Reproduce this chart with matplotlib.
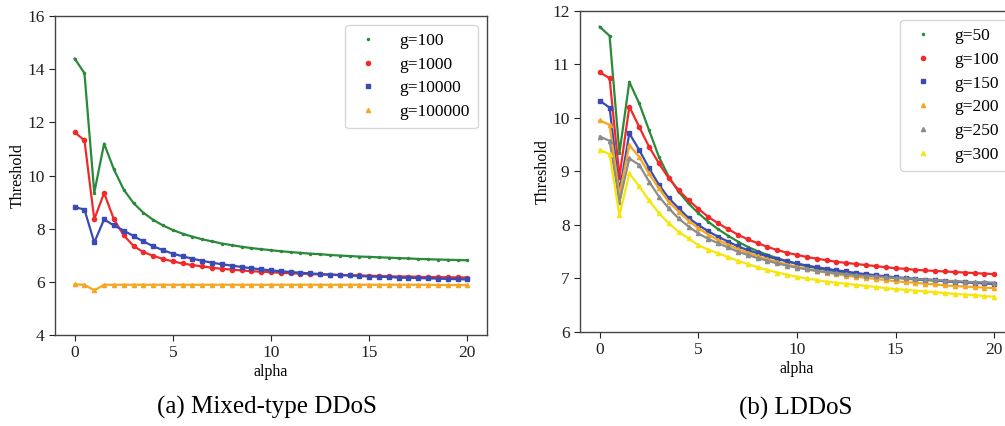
import matplotlib
matplotlib.use("Agg")
import matplotlib.pyplot as plt

plt.rcParams['font.family'] = ['Liberation Serif', 'DejaVu Serif']
plt.rcParams['mathtext.fontset'] = 'stix'

# ---------------- data ----------------
alpha = [0, 0.5, 1, 1.5, 2, 2.5, 3, 3.5, 4, 4.5, 5, 5.5, 6, 6.5, 7, 7.5, 8, 8.5, 9, 9.5,
         10, 10.5, 11, 11.5, 12, 12.5, 13, 13.5, 14, 14.5, 15, 15.5, 16, 16.5, 17, 17.5,
         18, 18.5, 19, 19.5, 20]

# (a) Mixed-type DDoS
mix_labels = ["g=100", "g=1000", "g=10000", "g=100000"]
mix_g100 = [14.40, 13.85, 9.35, 11.20, 10.23, 9.47, 8.96, 8.60, 8.33, 8.12, 7.95, 7.81, 7.70,
            7.60, 7.52, 7.44, 7.38, 7.32, 7.27, 7.23, 7.19, 7.15, 7.12, 7.09, 7.06, 7.04,
            7.01, 6.99, 6.97, 6.95, 6.94, 6.92, 6.91, 6.89, 6.88, 6.86, 6.85, 6.84, 6.83,
            6.82, 6.81]
mix_g1000 = [11.63, 11.32, 8.35, 9.34, 8.35, 7.75, 7.35, 7.12, 6.98, 6.86, 6.77, 6.69, 6.63,
             6.58, 6.53, 6.49, 6.46, 6.43, 6.40, 6.38, 6.36, 6.34, 6.32, 6.31, 6.29, 6.28,
             6.27, 6.26, 6.25, 6.24, 6.23, 6.22, 6.21, 6.20, 6.20, 6.19, 6.18, 6.18, 6.17,
             6.17, 6.16]
mix_g10000 = [8.81, 8.72, 7.48, 8.35, 8.12, 7.93, 7.72, 7.52, 7.34, 7.19, 7.06, 6.96, 6.87,
              6.79, 6.72, 6.66, 6.61, 6.56, 6.51, 6.47, 6.43, 6.40, 6.37, 6.34, 6.32, 6.29,
              6.27, 6.25, 6.24, 6.22, 6.20, 6.19, 6.18, 6.16, 6.15, 6.14, 6.13, 6.12, 6.11,
              6.10, 6.09]
mix_g100000 = [5.90, 5.89, 5.68, 5.89, 5.89, 5.89, 5.89, 5.89, 5.89, 5.89, 5.89, 5.89, 5.89,
               5.89, 5.89, 5.89, 5.89, 5.89, 5.89, 5.89, 5.89, 5.89, 5.89, 5.89, 5.89, 5.89,
               5.89, 5.89, 5.89, 5.89, 5.89, 5.89, 5.89, 5.89, 5.89, 5.89, 5.89, 5.88, 5.88,
               5.88, 5.88]

# (b) LDDoS
ld_labels = ["g=50", "g=100", "g=150", "g=200", "g=250", "g=300"]
ld_g50 = [11.70, 11.53, 9.34, 10.67, 10.27, 9.77, 9.27, 8.90, 8.62, 8.40, 8.22, 8.06, 7.92,
          7.80, 7.69, 7.59, 7.51, 7.44, 7.38, 7.32, 7.27, 7.23, 7.19, 7.16, 7.13, 7.11,
          7.09, 7.07, 7.05, 7.03, 7.01, 7.00, 6.98, 6.97, 6.96, 6.95, 6.94, 6.93, 6.92,
          6.91, 6.90]
ld_g100 = [10.85, 10.74, 8.90, 10.21, 9.83, 9.46, 9.15, 8.87, 8.65, 8.46, 8.30, 8.15, 8.03,
           7.92, 7.82, 7.73, 7.66, 7.59, 7.53, 7.48, 7.44, 7.40, 7.37, 7.34, 7.31, 7.29,
           7.27, 7.25, 7.23, 7.21, 7.19, 7.18, 7.16, 7.15, 7.14, 7.13, 7.12, 7.11, 7.10,
           7.09, 7.08]
ld_g150 = [10.32, 10.19, 8.62, 9.71, 9.40, 9.06, 8.75, 8.50, 8.31, 8.13, 8.00, 7.88, 7.78,
           7.69, 7.60, 7.53, 7.47, 7.41, 7.36, 7.32, 7.28, 7.24, 7.21, 7.18, 7.15, 7.13,
           7.10, 7.08, 7.06, 7.04, 7.02, 7.01, 6.99, 6.98, 6.97, 6.95, 6.94, 6.93, 6.92,
           6.91, 6.90]
ld_g200 = [9.95, 9.87, 8.56, 9.49, 9.27, 8.96, 8.68, 8.43, 8.25, 8.08, 7.94, 7.82, 7.72,
           7.63, 7.55, 7.48, 7.42, 7.36, 7.31, 7.26, 7.22, 7.18, 7.14, 7.11, 7.08, 7.05,
           7.03, 7.01, 6.99, 6.97, 6.95, 6.93, 6.92, 6.90, 6.89, 6.87, 6.86, 6.85, 6.84,
           6.83, 6.82]
ld_g250 = [9.65, 9.57, 8.43, 9.24, 9.12, 8.81, 8.53, 8.31, 8.12, 7.97, 7.84, 7.74, 7.66,
           7.58, 7.50, 7.44, 7.38, 7.33, 7.28, 7.24, 7.20, 7.17, 7.14, 7.12, 7.10, 7.08,
           7.06, 7.05, 7.04, 7.02, 7.01, 7.00, 6.99, 6.98, 6.97, 6.96, 6.95, 6.94, 6.93,
           6.93, 6.92]
ld_g300 = [9.40, 9.32, 8.18, 8.96, 8.72, 8.46, 8.22, 8.03, 7.87, 7.75, 7.62, 7.54, 7.47,
           7.40, 7.33, 7.27, 7.21, 7.16, 7.11, 7.07, 7.03, 7.00, 6.97, 6.94, 6.92, 6.90,
           6.88, 6.86, 6.84, 6.82, 6.80, 6.79, 6.77, 6.76, 6.74, 6.73, 6.71, 6.70, 6.69,
           6.67, 6.66]

# ---------------- styles ----------------
mix_series = [mix_g100, mix_g1000, mix_g10000, mix_g100000]
mix_colors = ["#2a8a3a", "#f02a2a", "#3a4cb4", "#f5a623"]
mix_markers = [".", "o", "s", "^"]
mix_msize = [3, 3, 3, 3]

ld_series = [ld_g50, ld_g100, ld_g150, ld_g200, ld_g250, ld_g300]
ld_colors = ["#2a8a3a", "#f02a2a", "#3a4cb4", "#f5a623", "#8c8c8c", "#f5e60f"]
ld_markers = [".", "o", "s", "^", "^", "^"]
ld_msize = [3, 3, 3, 3, 3, 3]

W, H = 1005, 426
fig = plt.figure(figsize=(W / 100, H / 100), dpi=100)


def ax_px(l, t, r, b):
    return fig.add_axes([l / W, 1 - b / H, (r - l) / W, (b - t) / H])


def style(ax):
    for s in ax.spines.values():
        s.set_color("#444444")
        s.set_linewidth(1.0)
    ax.tick_params(labelsize=12.5, colors="#222222", length=4)


leg_kw = dict(fontsize=12.5, handletextpad=0.9, handlelength=1.8, borderpad=0.45,
              labelspacing=0.44, borderaxespad=0.0, loc="upper right")

# left panel
ax1 = ax_px(55, 16, 487, 335)
for y, c, m, ms, lab in zip(mix_series, mix_colors, mix_markers, mix_msize, mix_labels):
    ax1.plot(alpha, y, color=c, lw=1.6)
    ax1.plot(alpha, y, ls="none", marker=m, ms=ms, color=c, label=lab)
ax1.set_xlim(-1, 21)
ax1.set_ylim(4, 16)
ax1.set_yticks([4, 6, 8, 10, 12, 14, 16])
ax1.set_xticks([0, 5, 10, 15, 20])
ax1.set_xlabel("alpha", fontsize=11.5, labelpad=2)
ax1.set_ylabel("Threshold", fontsize=11.5, labelpad=1)
style(ax1)
ax1.legend(bbox_to_anchor=(0.979, 0.972), **leg_kw)

# right panel
ax2 = ax_px(580, 10.7, 1014, 332)
for y, c, m, ms, lab in zip(ld_series, ld_colors, ld_markers, ld_msize, ld_labels):
    ax2.plot(alpha, y, color=c, lw=1.6)
    ax2.plot(alpha, y, ls="none", marker=m, ms=ms, color=c, label=lab)
ax2.set_xlim(-1, 21)
ax2.set_ylim(6, 12)
ax2.set_yticks([6, 7, 8, 9, 10, 11, 12])
ax2.set_xticks([0, 5, 10, 15, 20])
ax2.set_xlabel("alpha", fontsize=11.5, labelpad=2)
ax2.set_ylabel("Threshold", fontsize=11.5, labelpad=1)
style(ax2)
ax2.legend(bbox_to_anchor=(0.984, 0.971), **leg_kw)

fig.text(267 / W, 1 - 407 / H, "(a) Mixed-type DDoS", fontsize=18, ha="center", va="center")
fig.text(796 / W, 1 - 408 / H, "(b) LDDoS", fontsize=18, ha="center", va="center")

fig.savefig("out.png", dpi=100)
